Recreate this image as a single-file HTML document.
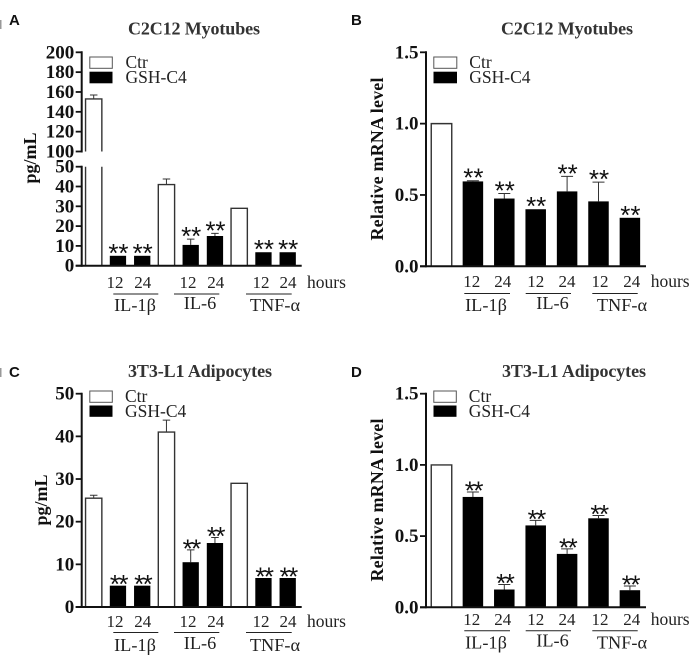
<!DOCTYPE html>
<html>
<head>
<meta charset="utf-8">
<style>
html,body{margin:0;padding:0;background:#fff;width:692px;height:657px;overflow:hidden}
svg{display:block}
text{font-family:"Liberation Serif",serif;fill:#1a1a1a}
.title{font-size:18px;font-weight:bold;fill:#333;text-anchor:middle}
.letter{font-family:"Liberation Sans",sans-serif;font-size:15px;font-weight:bold;fill:#111}
.ylab{font-size:18px;font-weight:bold;text-anchor:middle;fill:#111}
.tick{font-size:19px;font-weight:bold;text-anchor:end;fill:#111}
.leg{font-size:17.5px;fill:#222}
.cat{font-size:17px;text-anchor:middle;fill:#222}
.grp{font-size:18.3px;text-anchor:middle;fill:#222}
.hrs{font-size:17.5px;fill:#222}
.star{font-family:"Liberation Sans",sans-serif;font-size:26px;text-anchor:middle;fill:#111}
</style>
</head>
<body>
<svg id="fig" xmlns="http://www.w3.org/2000/svg" width="692" height="657" viewBox="0 0 692 657">
  <rect x="0" y="20" width="1.5" height="9" fill="#999"/>
  <rect x="0" y="368" width="1.5" height="9" fill="#999"/>

  <text class="letter" x="9" y="25">A</text>
  <text class="letter" x="351" y="25">B</text>
  <text class="letter" x="9" y="377">C</text>
  <text class="letter" x="351" y="377">D</text>

  <text class="title" x="194" y="34.5" textLength="132">C2C12 Myotubes</text>
  <text class="title" x="567" y="34.5" textLength="132">C2C12 Myotubes</text>
  <text class="title" x="200" y="377" textLength="144">3T3-L1 Adipocytes</text>
  <text class="title" x="574" y="377" textLength="144">3T3-L1 Adipocytes</text>

  <text class="ylab" transform="translate(36,158) rotate(-90)">pg/mL</text>
  <text class="ylab" transform="translate(383,159) rotate(-90)" textLength="163">Relative mRNA level</text>
  <text class="ylab" transform="translate(47,500) rotate(-90)">pg/mL</text>
  <text class="ylab" transform="translate(383,500) rotate(-90)" textLength="163">Relative mRNA level</text>

  <!-- Legends -->
  <g>
    <rect x="89.8" y="57" width="22.5" height="11.3" fill="#fff" stroke="#555" stroke-width="1"/>
    <rect x="89.5" y="71.7" width="23" height="11.6" fill="#000"/>
    <text class="leg" x="125.5" y="68">Ctr</text>
    <text class="leg" x="125.5" y="83">GSH-C4</text>
  </g>
  <g>
    <rect x="433.8" y="57" width="23" height="11.3" fill="#fff" stroke="#555" stroke-width="1"/>
    <rect x="433.5" y="71.7" width="23.5" height="11.6" fill="#000"/>
    <text class="leg" x="469.3" y="68">Ctr</text>
    <text class="leg" x="469.3" y="83">GSH-C4</text>
  </g>
  <g>
    <rect x="89.8" y="391" width="22.5" height="11.3" fill="#fff" stroke="#555" stroke-width="1"/>
    <rect x="89.5" y="405.5" width="23" height="11.3" fill="#000"/>
    <text class="leg" x="125" y="402">Ctr</text>
    <text class="leg" x="125" y="416.8">GSH-C4</text>
  </g>
  <g>
    <rect x="433.8" y="391" width="22.5" height="11.3" fill="#fff" stroke="#555" stroke-width="1"/>
    <rect x="433.5" y="405.5" width="23" height="11.3" fill="#000"/>
    <text class="leg" x="468.8" y="402">Ctr</text>
    <text class="leg" x="468.8" y="416.8">GSH-C4</text>
  </g>

  <!-- Panel A category labels -->
  <g>
    <text class="cat" x="115" y="288">12</text>
    <text class="cat" x="142.7" y="288">24</text>
    <text class="cat" x="188" y="288">12</text>
    <text class="cat" x="215.7" y="288">24</text>
    <text class="cat" x="261" y="288">12</text>
    <text class="cat" x="288" y="288">24</text>
    <text class="hrs" x="307" y="288">hours</text>
    <path d="M113.3 294H158.3M174 294H219.3M246 294H291.7" stroke="#222" stroke-width="1" fill="none"/>
    <text class="grp" x="135" y="311">IL-1β</text>
    <text class="grp" x="200" y="309">IL-6</text>
    <text class="grp" x="275" y="311">TNF-α</text>
  </g>
  <!-- Panel B category labels -->
  <g>
    <text class="cat" x="471.7" y="287">12</text>
    <text class="cat" x="502.7" y="287">24</text>
    <text class="cat" x="535.7" y="287">12</text>
    <text class="cat" x="567" y="287">24</text>
    <text class="cat" x="600" y="287">12</text>
    <text class="cat" x="631.7" y="287">24</text>
    <text class="hrs" x="650.7" y="287">hours</text>
    <path d="M464.3 293.5H510M525.7 293.5H571M592.3 293.5H637.7" stroke="#222" stroke-width="1" fill="none"/>
    <text class="grp" x="486" y="311">IL-1β</text>
    <text class="grp" x="552.5" y="309">IL-6</text>
    <text class="grp" x="622" y="311">TNF-α</text>
  </g>
  <!-- Panel C category labels -->
  <g>
    <text class="cat" x="115" y="627">12</text>
    <text class="cat" x="142.7" y="627">24</text>
    <text class="cat" x="188" y="627">12</text>
    <text class="cat" x="215.7" y="627">24</text>
    <text class="cat" x="261" y="627">12</text>
    <text class="cat" x="288" y="627">24</text>
    <text class="hrs" x="307" y="627">hours</text>
    <path d="M113.3 632.5H158.3M174 632.5H219.3M246 632.5H291.7" stroke="#222" stroke-width="1" fill="none"/>
    <text class="grp" x="135" y="651">IL-1β</text>
    <text class="grp" x="200" y="649">IL-6</text>
    <text class="grp" x="275" y="651">TNF-α</text>
  </g>
  <!-- Panel D category labels -->
  <g>
    <text class="cat" x="471.7" y="625">12</text>
    <text class="cat" x="502.7" y="625">24</text>
    <text class="cat" x="535.7" y="625">12</text>
    <text class="cat" x="567" y="625">24</text>
    <text class="cat" x="600" y="625">12</text>
    <text class="cat" x="631.7" y="625">24</text>
    <text class="hrs" x="650.7" y="625">hours</text>
    <path d="M464.3 630.7H510M525.7 630.7H571M592.3 630.7H637.7" stroke="#222" stroke-width="1" fill="none"/>
    <text class="grp" x="486" y="648.5">IL-1β</text>
    <text class="grp" x="552.5" y="646.5">IL-6</text>
    <text class="grp" x="622" y="648.5">TNF-α</text>
  </g>
</svg>
<script>
// Chart data
const barKindsA = ['ctr','gsh','gsh','ctr','gsh','gsh','ctr','gsh','gsh'];
const barKindsB = ['ctr','gsh','gsh','gsh','gsh','gsh','gsh'];
const panelAValues = [153, 5, 5, 41, 10.5, 15, 29, 6.8, 6.8];
const panelAErrors = [157, 5, 5, 43.8, 13.4, 16.3, 29, 6.8, 6.8];
const panelAStars  = [0, 1, 1, 0, 1, 1, 0, 1, 1];
const panelCValues = [25.5, 5, 5, 41, 10.5, 15, 29, 6.8, 6.8];
const panelCErrors = [26.2, 5, 5, 43.8, 13.4, 16.3, 29, 6.8, 6.8];
const panelCStars  = [0, 1, 1, 0, 1, 1, 0, 1, 1];
const panelBValues = [1.0, 0.595, 0.475, 0.40, 0.525, 0.455, 0.34];
const panelBErrors = [1.0, 0.60, 0.51, 0.40, 0.63, 0.59, 0.34];
const panelBStars  = [0, 1, 1, 1, 1, 1, 1];
const panelDValues = [1.0, 0.775, 0.125, 0.575, 0.375, 0.625, 0.12];
const panelDErrors = [1.0, 0.81, 0.16, 0.61, 0.41, 0.645, 0.15];
const panelDStars  = [0, 1, 1, 1, 1, 1, 1];
const panelATicksLower = [0, 10, 20, 30, 40, 50];
const panelATicksUpper = [100, 120, 140, 160, 180, 200];
const panelCTicks = [0, 10, 20, 30, 40, 50];
const mrnaTicks = ['0.0', '0.5', '1.0', '1.5'];

const NS = 'http://www.w3.org/2000/svg';
const svg = document.getElementById('fig');
function make(tag, attrs, text) {
  const el = document.createElementNS(NS, tag);
  for (const k in attrs) el.setAttribute(k, attrs[k]);
  if (text !== undefined) el.textContent = text;
  svg.appendChild(el);
  return el;
}

function drawPanel(p) {
  const baseY = p.y(0);
  // bars
  p.values.forEach(function (v, i) {
    const cx = p.x0 + i * p.step;
    const left = cx - p.w / 2, right = cx + p.w / 2;
    const top = p.y(v);
    const errTop = p.y(p.errors[i]);
    if (errTop < top - 0.4) {
      const err = make('path', {
        d: 'M' + cx + ' ' + top + 'V' + errTop + 'M' + (cx - p.cap / 2) + ' ' + errTop + 'H' + (cx + p.cap / 2),
        stroke: '#333', 'stroke-width': 1, fill: 'none'
      });
      
      
    }
    if (p.kinds[i] === 'ctr') {
      let d = 'M' + left + ' ' + baseY + 'V' + top + 'H' + right + 'V' + baseY;
      if (p.breakAt && v > p.breakAt.lower) {
        const a = p.y(p.breakAt.upper), b = p.y(p.breakAt.lower);
        d = 'M' + left + ' ' + baseY + 'V' + b + 'M' + left + ' ' + a + 'V' + top + 'H' + right + 'V' + a + 'M' + right + ' ' + b + 'V' + baseY;
      }
      const bar = make('path', { d: d, fill: 'none', stroke: '#333', 'stroke-width': 1.4 });
      
      
    } else {
      const bar = make('rect', { x: left, y: top, width: p.w, height: baseY - top, fill: '#000' });
      
      
    }
    if (p.stars[i]) {
      const star = make('text', {
        class: 'star', x: cx + 0.5, y: Math.min(top, errTop) + p.starDrop,
        'letter-spacing': p.starSpacing
      }, '**');
      
      
    }
  });
  // y axis
  p.axisSegments.forEach(function (s) {
    const axis = make('line', { x1: p.axisX, x2: p.axisX, y1: p.y(s[0]) + 1, y2: p.y(s[1]) - 1, stroke: '#111', 'stroke-width': 2 });
    
    
  });
  p.ticks.forEach(function (t) {
    const y = p.y(Number(t));
    const mark = make('line', { x1: p.axisX - 6, x2: p.axisX, y1: y, y2: y, stroke: '#111', 'stroke-width': 1.8 });
    
    
    const lab = make('text', { class: 'tick', x: p.axisX - 7.5, y: y + 6 }, String(t));
    
    
  });
  // x axis
  const xAxis = make('line', { x1: p.axisX - 6, x2: p.xEnd, y1: baseY, y2: baseY, stroke: '#111', 'stroke-width': 2 });
  
  
}

function brokenScale(zeroY) {
  return function (v) {
    if (v <= 50) return zeroY - v * 1.98;
    if (v < 100) return zeroY - 99;
    return 151.5 - (v - 100) * 0.992;
  };
}
function linearScale(zeroY, topY, max) {
  return function (v) { return zeroY - v * (zeroY - topY) / max; };
}

drawPanel({
  kinds: barKindsA, values: panelAValues, errors: panelAErrors, stars: panelAStars,
  ticks: panelATicksLower.concat(panelATicksUpper),
  y: brokenScale(265.7), x0: 93.7, step: 24.25, w: 16.3, cap: 7.5, axisX: 81.7, xEnd: 301.7,
  axisSegments: [[0, 50], [100, 200]], breakAt: { lower: 50, upper: 100 },
  starDrop: 6, starSpacing: 0
});
drawPanel({
  kinds: barKindsB, values: panelBValues, errors: panelBErrors, stars: panelBStars,
  ticks: mrnaTicks,
  y: linearScale(266.3, 52.3, 1.5), x0: 441.5, step: 31.4, w: 20.5, cap: 12, axisX: 426, xEnd: 646,
  axisSegments: [[0, 1.5]],
  starDrop: 6, starSpacing: 0
});
drawPanel({
  kinds: barKindsA, values: panelCValues, errors: panelCErrors, stars: panelCStars,
  ticks: panelCTicks,
  y: linearScale(607, 393.7, 50), x0: 93.7, step: 24.25, w: 16.3, cap: 7.5, axisX: 81.7, xEnd: 301.7,
  axisSegments: [[0, 50]],
  starDrop: 7.5, starSpacing: -1.5
});
drawPanel({
  kinds: barKindsB, values: panelDValues, errors: panelDErrors, stars: panelDStars,
  ticks: mrnaTicks,
  y: linearScale(607.3, 393.7, 1.5), x0: 441.5, step: 31.4, w: 20.5, cap: 12, axisX: 426, xEnd: 646,
  axisSegments: [[0, 1.5]],
  starDrop: 7.5, starSpacing: -1.5
});
</script>
</body>
</html>
